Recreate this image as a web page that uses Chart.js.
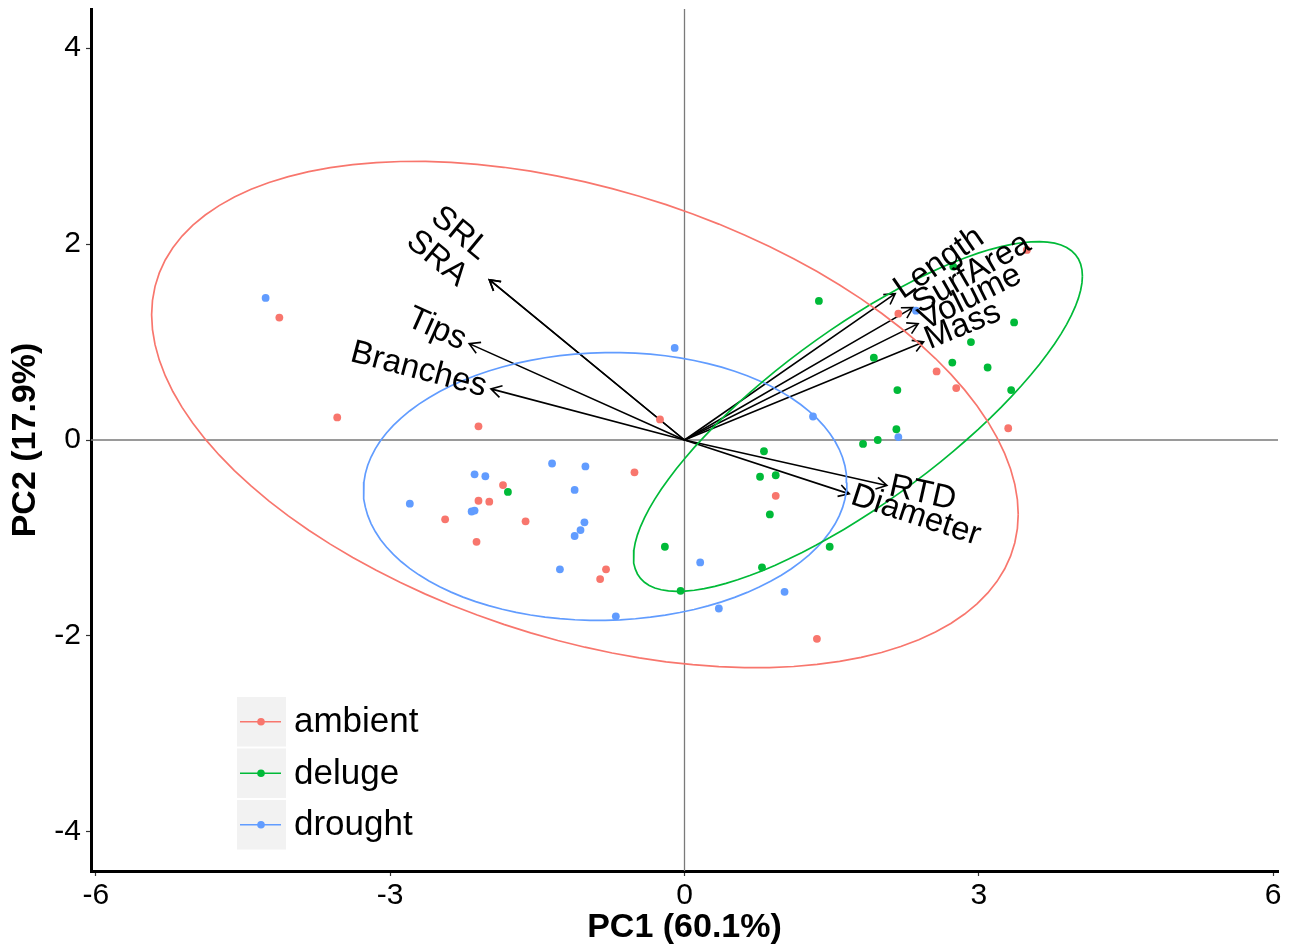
<!DOCTYPE html>
<html>
<head>
<meta charset="utf-8">
<script src="https://cdn.jsdelivr.net/npm/chart.js@4.4.1/dist/chart.umd.min.js"></script>
<style>
  html, body { margin: 0; padding: 0; background: #fff; }
  #wrap { width: 1292px; height: 949px; }
</style>
</head>
<body>
<div id="wrap"><canvas id="pca"></canvas></div>
<script>
// treatment groups
const groupNames = ['ambient', 'deluge', 'drought'];
const groupColors = ['#F8766D', '#00BA38', '#619CFF'];

// PC scores
const ambientPC1 = [-4.13, -3.54, -2.10, -2.10, -1.99, -2.44, -2.12, -0.25, -0.51, -1.85,
                    -1.62, -0.80, -0.86, 2.18, 2.57, 2.77, 3.30, 0.93, 1.35, 3.49];
const ambientPC2 = [1.25, 0.23, 0.14, -0.62, -0.63, -0.81, -1.04, 0.21, -0.33, -0.46,
                    -0.83, -1.32, -1.42, 1.29, 0.70, 0.53, 0.12, -0.57, -2.03, 1.94];

const delugePC1 = [-1.80, -0.20, -0.04, 1.37, 3.36, 2.92, 1.93, 2.73, 3.09, 2.17, 3.33,
                   2.16, 1.97, 1.82, 0.81, 0.77, 0.93, 0.87, 1.48, 0.79, 2.74];
const delugePC2 = [-0.53, -1.09, -1.54, 1.42, 1.20, 1.00, 0.84, 0.79, 0.74, 0.51, 0.51,
                   0.11, 0.00, -0.04, -0.115, -0.375, -0.36, -0.76, -1.09, -1.30, 1.77];

const droughtPC1 = [-4.27, -2.14, -2.03, -2.80, -2.17, -2.14, -0.10, -1.35, -1.01, -1.12, -1.02,
                    -1.06, -1.12, 0.16, -1.27, -0.70, 2.36, 1.31, 2.18, 1.02, 0.35];
const droughtPC2 = [1.45, -0.35, -0.37, -0.65, -0.73, -0.72, 0.94, -0.24, -0.27, -0.51, -0.84,
                    -0.92, -0.98, -1.25, -1.32, -1.80, 1.32, 0.24, 0.03, -1.55, -1.72];

// variable loadings (arrow tips)
const loadingNames = ['SRL', 'SRA', 'Tips', 'Branches', 'Length', 'SurfArea', 'Volume', 'Mass', 'RTD', 'Diameter'];
const loadingPC1 = [-1.99, -1.99, -2.195, -1.973, 2.148, 2.328, 2.382, 2.437, 2.063, 1.68];
const loadingPC2 = [1.637, 1.637, 0.984, 0.522, 1.494, 1.351, 1.188, 1.001, -0.464, -0.55];

// group ellipses: centre and covariance
const ellipseCenterX = [-1.015, 1.768, -0.809];
const ellipseCenterY = [0.26, 0.24, -0.474];
const ellipseVarX = [19.51, 5.236, 6.07];
const ellipseVarY = [6.68, 3.189, 1.87];
const ellipseCov = [-4.5, 3.28, 0.1];

const xTicks = [-6, -3, 0, 3, 6];
const yTicks = [-4, -2, 0, 2, 4];

const FONT = 'Arial, "Liberation Sans", Helvetica, sans-serif';

function toPoints(xs, ys) {
  return xs.map((v, i) => ({ x: v, y: ys[i] }));
}

// outline from centre + cholesky of the covariance
function ellipseOutline(g) {
  const l11 = Math.sqrt(ellipseVarX[g]);
  const l21 = ellipseCov[g] / l11;
  const l22 = Math.sqrt(ellipseVarY[g] - l21 * l21);
  const pts = [];
  for (let k = 0; k <= 100; k++) {
    const t = 2 * Math.PI * k / 100;
    pts.push({
      x: ellipseCenterX[g] + l11 * Math.cos(t),
      y: ellipseCenterY[g] + l21 * Math.cos(t) + l22 * Math.sin(t)
    });
  }
  return pts;
}

const scores = [
  toPoints(ambientPC1, ambientPC2),
  toPoints(delugePC1, delugePC2),
  toPoints(droughtPC1, droughtPC2)
];

const datasets = [];
groupNames.forEach((name, g) => {
  datasets.push({
    label: name,
    data: scores[g],
    pointRadius: 3.9,
    pointBackgroundColor: groupColors[g],
    pointBorderWidth: 0,
    borderColor: groupColors[g]
  });
});
groupNames.forEach((name, g) => {
  datasets.push({
    label: name + ' ellipse',
    type: 'line',
    data: ellipseOutline(g),
    showLine: true,
    pointRadius: 0,
    borderColor: groupColors[g],
    borderWidth: 1.7,
    fill: false,
    tension: 0
  });
});

const biplotExtras = {
  id: 'biplotExtras',
  beforeDatasetsDraw(chart) {
    const { ctx, chartArea: a, scales: { x, y } } = chart;
    const x0 = x.getPixelForValue(0), y0 = y.getPixelForValue(0);
    ctx.save();
    ctx.strokeStyle = '#7a7a7a';
    ctx.lineWidth = 1.3;
    ctx.beginPath();
    ctx.moveTo(a.left, y0); ctx.lineTo(a.right, y0);
    ctx.moveTo(x0, a.top); ctx.lineTo(x0, a.bottom);
    ctx.stroke();

    ctx.strokeStyle = '#000';
    ctx.lineWidth = 1.6;
    const head = 12, spread = Math.PI / 6;
    loadingNames.forEach((n, i) => {
      const tx = x.getPixelForValue(loadingPC1[i]);
      const ty = y.getPixelForValue(loadingPC2[i]);
      const ang = Math.atan2(ty - y0, tx - x0);
      ctx.beginPath();
      ctx.moveTo(x0, y0); ctx.lineTo(tx, ty);
      ctx.moveTo(tx - head * Math.cos(ang - spread), ty - head * Math.sin(ang - spread));
      ctx.lineTo(tx, ty);
      ctx.lineTo(tx - head * Math.cos(ang + spread), ty - head * Math.sin(ang + spread));
      ctx.stroke();
    });
    ctx.restore();
  },
  afterDatasetsDraw(chart) {
    const { ctx, scales: { x, y } } = chart;
    const x0 = x.getPixelForValue(0), y0 = y.getPixelForValue(0);
    const lineH = 34;
    ctx.save();
    ctx.fillStyle = '#000';
    ctx.font = '33px ' + FONT;
    ctx.textBaseline = 'middle';
    loadingNames.forEach((n, i) => {
      const tx = x.getPixelForValue(loadingPC1[i]);
      const ty = y.getPixelForValue(loadingPC2[i]);
      // labels sharing a tip are spread around it, one line apart
      let shared = 0, later = 0;
      loadingNames.forEach((m, j) => {
        if (loadingPC1[j] === loadingPC1[i] && loadingPC2[j] === loadingPC2[i]) {
          shared++;
          if (j > i) later++;
        }
      });
      const shift = (shared - 1) / 2 * lineH - later * lineH;
      const gap = shared > 1 ? 20 : 5;
      const ang = Math.atan((ty - y0) / (tx - x0));
      ctx.save();
      ctx.translate(tx, ty);
      ctx.rotate(ang);
      const right = loadingPC1[i] > 0;
      ctx.textAlign = right ? 'left' : 'right';
      ctx.fillText(n, right ? 3 : -gap, shift);
      ctx.restore();
    });
    ctx.restore();
  },
  afterDraw(chart) {
    const { ctx, chartArea: a } = chart;
    const left = a.left + 146, top = a.top + 688, keyW = 49, rowH = 51.5;
    ctx.save();
    groupNames.forEach((name, g) => {
      const ky = top + g * rowH;
      ctx.fillStyle = '#F2F2F2';
      ctx.fillRect(left, ky, keyW, rowH - 2);
      const cy = ky + (rowH - 2) / 2;
      ctx.strokeStyle = groupColors[g];
      ctx.lineWidth = 1.6;
      ctx.beginPath();
      ctx.moveTo(left + 3, cy); ctx.lineTo(left + keyW - 5, cy);
      ctx.stroke();
      ctx.fillStyle = groupColors[g];
      ctx.beginPath();
      ctx.arc(left + 24, cy, 3.8, 0, 2 * Math.PI);
      ctx.fill();
      ctx.fillStyle = '#000';
      ctx.font = '35px ' + FONT;
      ctx.textAlign = 'left';
      ctx.textBaseline = 'middle';
      ctx.fillText(name, left + keyW + 8, cy + 1);
    });
    ctx.restore();
  }
};

new Chart(document.getElementById('pca'), {
  type: 'scatter',
  data: { datasets: datasets },
  options: {
    responsive: true,
    maintainAspectRatio: false,
    animation: false,
    events: [],
    layout: { padding: { left: 0, right: 14, top: 9, bottom: 0 } },
    plugins: { legend: { display: false }, tooltip: { enabled: false } },
    scales: {
      x: {
        type: 'linear',
        min: -6.05,
        max: 6.05,
        afterBuildTicks: (s) => { s.ticks = xTicks.map(v => ({ value: v })); },
        afterFit: (s) => { s.height = 78; s.paddingLeft = 0; s.paddingRight = 0; },
        border: { display: true, color: '#000', width: 3 },
        grid: { display: true, drawOnChartArea: false, drawTicks: true, tickLength: 5, tickWidth: 1.2, tickColor: '#333' },
        ticks: { color: '#000', font: { family: FONT, size: 30 }, padding: 2, maxRotation: 0 },
        title: { display: true, text: 'PC1 (60.1%)', color: '#000', font: { family: FONT, size: 34, weight: 'bold' }, padding: { top: 0, bottom: 1 } }
      },
      y: {
        type: 'linear',
        min: -4.4,
        max: 4.4,
        afterBuildTicks: (s) => { s.ticks = yTicks.map(v => ({ value: v })); },
        afterFit: (s) => { s.width = 91; s.paddingTop = 0; s.paddingBottom = 0; },
        border: { display: true, color: '#000', width: 3 },
        grid: { display: true, drawOnChartArea: false, drawTicks: true, tickLength: 5, tickWidth: 1.2, tickColor: '#333' },
        ticks: { color: '#000', font: { family: FONT, size: 30 }, padding: 5 },
        title: { display: true, text: 'PC2 (17.9%)', color: '#000', font: { family: FONT, size: 34, weight: 'bold' }, padding: { top: 5, bottom: 0 } }
      }
    }
  },
  plugins: [biplotExtras]
});
</script>
</body>
</html>
